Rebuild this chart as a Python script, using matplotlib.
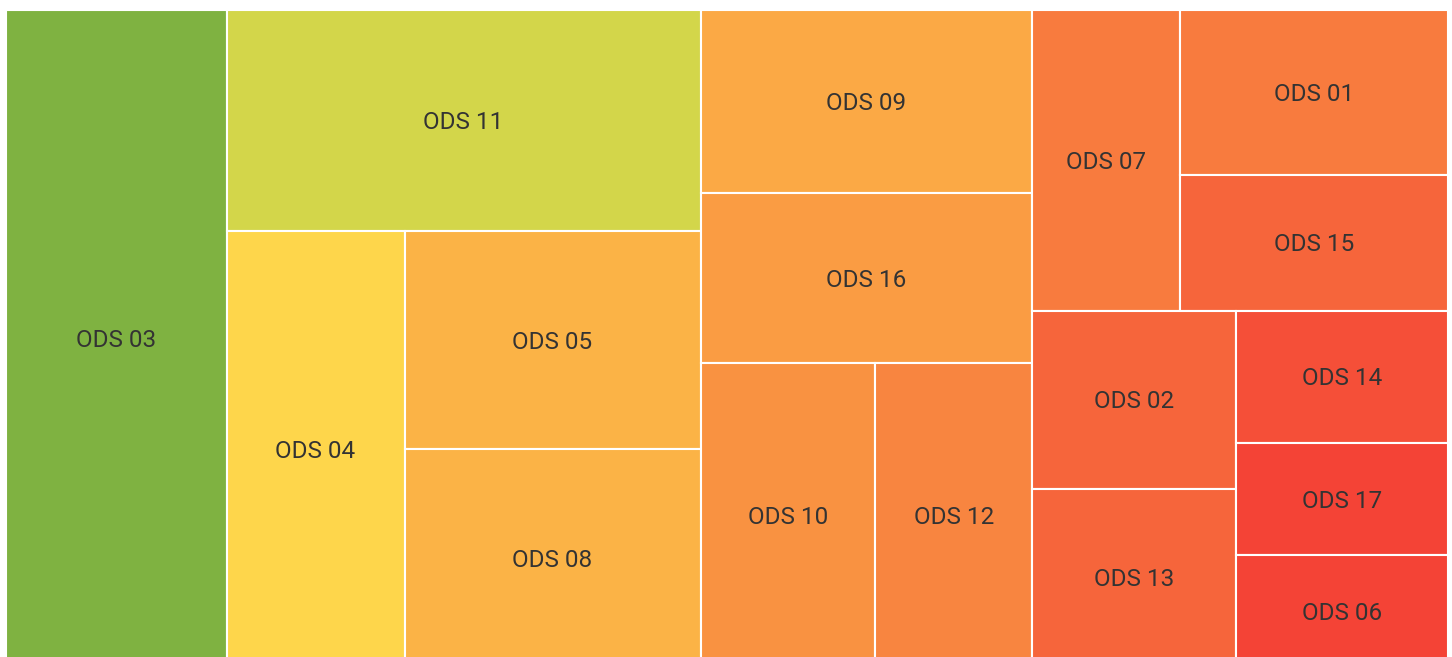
"""
Treemap of ODS (Objetivos de Desenvolvimento Sustentável) weights.
Layout: recursive binary split along the longer side,
colour: red -> yellow -> green scale on the value.
Saves out.png
"""
import numpy as np
import matplotlib
matplotlib.use("Agg")
import matplotlib.pyplot as plt
from matplotlib.patches import Rectangle
from matplotlib.colors import LinearSegmentedColormap, Normalize

plt.rcParams["font.family"] = ["Roboto", "DejaVu Sans"]

# data, sorted by value (drawing order)
labels = ["ODS 03", "ODS 11", "ODS 04", "ODS 05", "ODS 08", "ODS 09",
          "ODS 16", "ODS 10", "ODS 12", "ODS 07", "ODS 01", "ODS 15",
          "ODS 02", "ODS 13", "ODS 14", "ODS 17", "ODS 06"]
values = [144.9, 104.8, 77.6, 64.5, 64.5, 60.9,
          56.3, 53.0, 47.9, 44.3, 44.3, 36.3,
          36.3, 36.3, 28.1, 23.7, 23.7]

cmap = LinearSegmentedColormap.from_list(
    "ods", [(0.0, "#F44336"), (0.5, "#FFE94E"), (1.0, "#7FB241")])

W, H = 1442, 657   # canvas size in pixels (bottom edge is cropped by the figure)


def binary_layout(vals, x0, y0, x1, y1):
    """Split the list in two (first part just under half the total),
    cut along the longer side, recurse."""
    n = len(vals)
    if n == 1:
        return [(x0, y0, x1 - x0, y1 - y0)]
    cums = np.cumsum(vals)
    total = cums[-1]
    k = int(np.searchsorted(cums, total / 2))
    k = min(max(k, 1), n - 1)
    frac = cums[k - 1] / total
    if (x1 - x0) > (y1 - y0):
        xk = x0 + (x1 - x0) * frac
        return (binary_layout(vals[:k], x0, y0, xk, y1) +
                binary_layout(vals[k:], xk, y0, x1, y1))
    yk = y0 + (y1 - y0) * frac
    return (binary_layout(vals[:k], x0, y0, x1, yk) +
            binary_layout(vals[k:], x0, yk, x1, y1))


rects = binary_layout(list(values), 0, 0, W, H)
norm = Normalize(vmin=min(values), vmax=max(values))

fig = plt.figure(figsize=(14.52, 6.57), dpi=100)
ax = fig.add_axes([6 / 1452, -10 / 657, W / 1452, H / 657])
ax.set_xlim(0, W)
ax.set_ylim(H, 0)
ax.axis("off")

for (x, y, w, h), lab, val in zip(rects, labels, values):
    ax.add_patch(Rectangle((x, y), w, h, facecolor=cmap(norm(val)),
                           edgecolor="white", linewidth=1.5, clip_on=False))
    ax.text(x + w / 2, y + h / 2 + 2, lab, ha="center", va="center",
            fontsize=17.5, color="#333333")

fig.savefig("out.png", dpi=100)
